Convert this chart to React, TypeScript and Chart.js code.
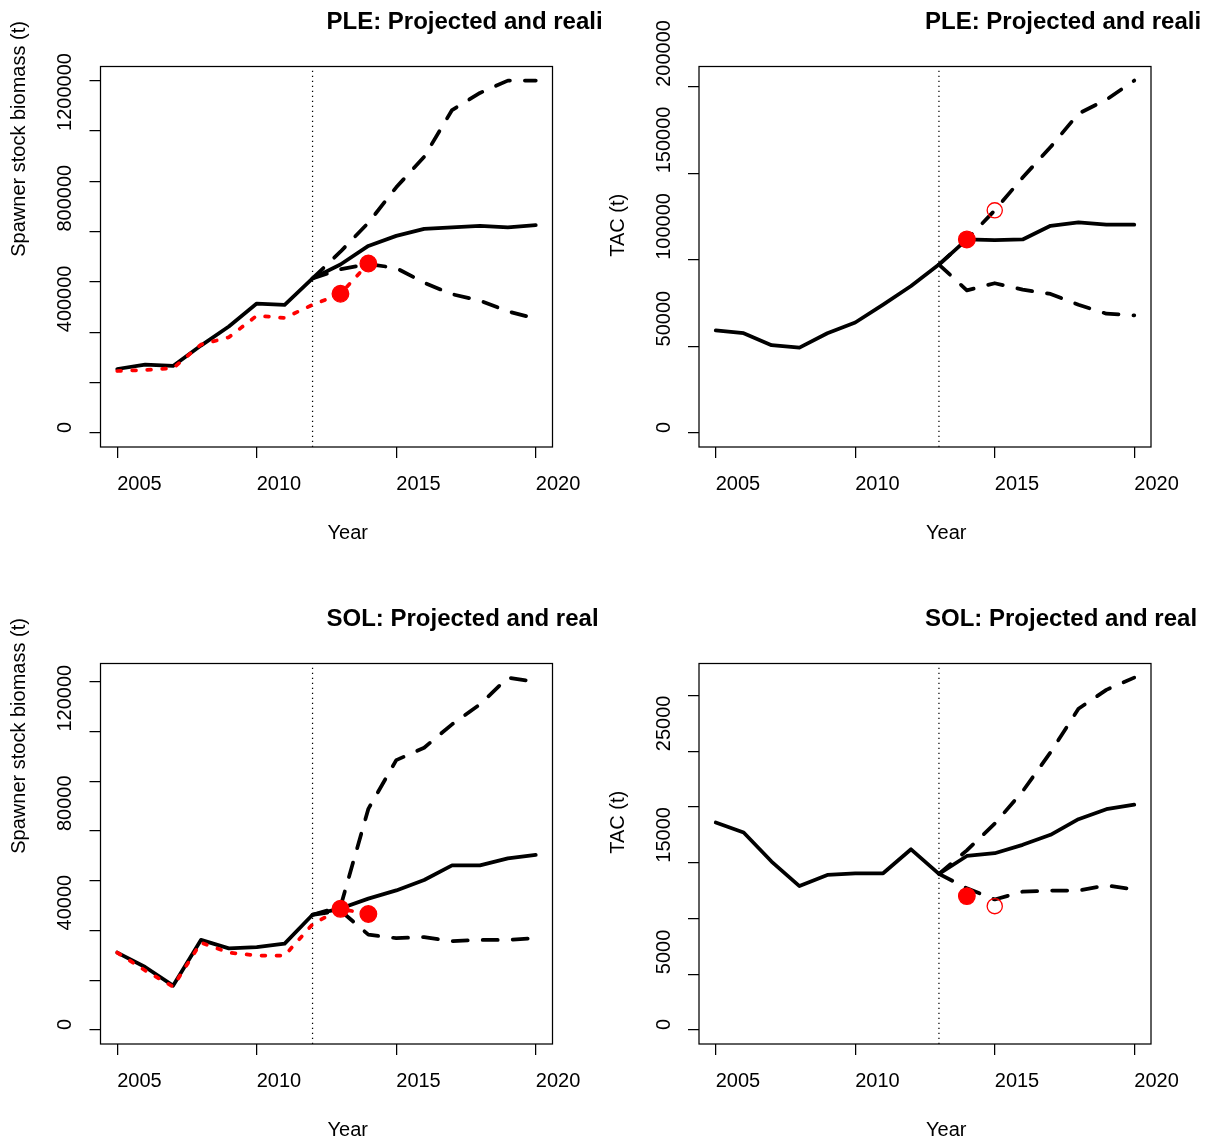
import React, { useEffect, useRef } from "react";
import { Chart, registerables } from "chart.js";

Chart.register(...registerables);

const FONT = '"Liberation Sans", Arial, Helvetica, sans-serif';
const RED = "#FF0000";
const BLACK = "#000000";

// ---------- shared axes ----------
const years = [2005, 2006, 2007, 2008, 2009, 2010, 2011, 2012, 2013, 2014, 2015, 2016, 2017, 2018, 2019, 2020];
const realisedYears = [2005, 2006, 2007, 2008, 2009, 2010, 2011, 2012, 2013, 2014];
const xTickValues = [2005, 2010, 2015, 2020];
const xTickLabels = ["2005", "2010", "2015", "2020"];

// ---------- PLE: spawner stock biomass ----------
const pleSsbYTicks = [0, 200000, 400000, 600000, 800000, 1000000, 1200000, 1400000];
const pleSsbYTickLabels = ["0", "", "400000", "", "800000", "", "1200000", ""];
const pleSsbYRange = [0, 1400000];
const pleSsbSolid = [254000, 271000, 266000, 347000, 423000, 514000, 509000, 614000, 669000, 743000, 783000, 811000, 817000, 823000, 817000, 826000];
const pleSsbRealised = [246000, 250000, 257000, 351000, 380000, 466000, 457000, 509000, 553000, 673000];
const pleSsbProjYears = [2012, 2013, 2014, 2015, 2016, 2017, 2018, 2019, 2020];
const pleSsbHigh = [614000, 720000, 835000, 976000, 1097000, 1283000, 1351000, 1400000, 1400000];
const pleSsbLow = [614000, 650000, 671000, 655000, 597000, 551000, 526000, 483000, 454000];
const pleSsbFilledYears = [2013, 2014];
const pleSsbFilled = [553000, 673000];

// ---------- PLE: TAC ----------
const pleTacYTicks = [0, 50000, 100000, 150000, 200000];
const pleTacYTickLabels = ["0", "50000", "100000", "150000", "200000"];
const pleTacYRange = [0, 203600];
const pleTacSolid = [59200, 57600, 50700, 49300, 57600, 63800, 74100, 84900, 97300, 111800, 111400, 111800, 119700, 121700, 120300, 120300];
const pleTacProjYears = [2013, 2014, 2015, 2016, 2017, 2018, 2019, 2020];
const pleTacHigh = [97300, 111800, 128600, 147600, 165200, 184500, 192600, 203600];
const pleTacLow = [97300, 82400, 86500, 82800, 80300, 74100, 68900, 67900];
const pleTacFilledYears = [2014];
const pleTacFilled = [111800];
const pleTacOpenYears = [2015];
const pleTacOpen = [128600];

// ---------- SOL: spawner stock biomass ----------
const solSsbYTicks = [0, 20000, 40000, 60000, 80000, 100000, 120000, 140000];
const solSsbYTickLabels = ["0", "", "40000", "", "80000", "", "120000", ""];
const solSsbYRange = [0, 141700];
const solSsbSolid = [31100, 25300, 17800, 36200, 32800, 33300, 34700, 46300, 48800, 52800, 56100, 60300, 66200, 66200, 69000, 70400];
const solSsbRealised = [31100, 23900, 17400, 35100, 31100, 29900, 29900, 42500, 48700, 46600];
const solSsbProjYears = [2012, 2013, 2014, 2015, 2016, 2017, 2018, 2019, 2020];
const solSsbHigh = [46300, 49500, 88900, 108500, 113500, 122900, 130900, 141700, 140000];
const solSsbLow = [46300, 48000, 38300, 36900, 37300, 35700, 36200, 36200, 36900];
const solSsbFilledYears = [2013, 2014];
const solSsbFilled = [48700, 46600];

// ---------- SOL: TAC ----------
const solTacYTicks = [0, 5000, 10000, 15000, 20000, 25000, 30000];
const solTacYTickLabels = ["0", "5000", "", "15000", "", "25000", ""];
const solTacYRange = [0, 31600];
const solTacSolid = [18600, 17700, 15100, 12900, 13900, 14050, 14050, 16200, 14000, 15600, 15850, 16600, 17500, 18900, 19800, 20200];
const solTacProjYears = [2013, 2014, 2015, 2016, 2017, 2018, 2019, 2020];
const solTacHigh = [14000, 16100, 18500, 21400, 24900, 28800, 30500, 31600];
const solTacLow = [14000, 12700, 11700, 12400, 12500, 12500, 12960, 12600];
const solTacFilledYears = [2014];
const solTacFilled = [12000];
const solTacOpenYears = [2015];
const solTacOpen = [11100];

// ---------- layout ----------
const CANVAS_W = 605;
const CANVAS_H = 596;
const BOX_TOP = 66.5;
const BOX_BOTTOM = 447;
const X_AXIS_H = 60;
const GEOM = [
  { boxLeft: 100.5, boxRight: 552.5, labelLeft: 55 },
  { boxLeft: 94, boxRight: 546, labelLeft: 49.5 },
];

type PanelSpec = {
  title: string;
  yTitle: string;
  yTicks: number[];
  yTickLabels: string[];
  yRange: number[];
  cutYear: number;
  solid: number[];
  realised?: number[];
  projYears: number[];
  high: number[];
  low: number[];
  filledYears: number[];
  filled: number[];
  openYears?: number[];
  open?: number[];
  col: number;
  clipRight: number;
};

const xy = (xs: number[], ys: number[]) => xs.map((x, i) => ({ x, y: ys[i] }));

const framePlugin = {
  id: "frame",
  afterDraw(chart: any, _args: any, opts: any) {
    const { ctx, chartArea: a } = chart;
    ctx.save();
    ctx.strokeStyle = BLACK;
    ctx.lineWidth = 1.25;
    ctx.strokeRect(a.left, a.top, a.right - a.left, a.bottom - a.top);
    ctx.fillStyle = BLACK;
    ctx.textAlign = "left";
    ctx.textBaseline = "alphabetic";
    const cx = (a.left + a.right) / 2;
    const cy = (a.top + a.bottom) / 2;
    ctx.font = `20px ${FONT}`;
    ctx.fillText(opts.xTitle, cx + 1, 538.5);
    ctx.save();
    ctx.translate(a.left - 75.5, cy);
    ctx.rotate(-Math.PI / 2);
    ctx.fillText(opts.yTitle, 0, 0);
    ctx.restore();
    ctx.beginPath();
    ctx.rect(0, 0, opts.clipRight, chart.height);
    ctx.clip();
    ctx.font = `bold 24px ${FONT}`;
    ctx.fillText(opts.title, cx, 29);
    ctx.restore();
  },
};

function Panel({ spec }: { spec: PanelSpec }) {
  const ref = useRef<HTMLCanvasElement | null>(null);
  useEffect(() => {
    if (!ref.current) return;
    const g = GEOM[spec.col];
    const span = (spec.yRange[1] - spec.yRange[0]) * 0.04;
    const yMin = spec.yRange[0] - span;
    const yMax = spec.yRange[1] + span;
    const datasets: any[] = [];
    if (spec.openYears && spec.open) {
      datasets.push({
        label: "open",
        data: xy(spec.openYears, spec.open),
        showLine: false,
        pointRadius: 7.6,
        pointBorderWidth: 1.3,
        pointBorderColor: RED,
        pointBackgroundColor: "rgba(0,0,0,0)",
        borderColor: RED,
      });
    }
    datasets.push({
      label: "filled",
      data: xy(spec.filledYears, spec.filled),
      showLine: false,
      pointRadius: 8.3,
      pointBorderWidth: 1.3,
      pointBorderColor: RED,
      pointBackgroundColor: RED,
      borderColor: RED,
    });
    if (spec.realised) {
      datasets.push({
        label: "realised",
        data: xy(realisedYears, spec.realised),
        borderColor: RED,
        borderWidth: 3.75,
        borderDash: [3.75, 11.25],
        borderCapStyle: "round",
        borderJoinStyle: "round",
        pointRadius: 0,
      });
    }
    datasets.push({
      label: "solid",
      data: xy(years, spec.solid),
      borderColor: BLACK,
      borderWidth: 3.75,
      borderCapStyle: "round",
      borderJoinStyle: "round",
      pointRadius: 0,
    });
    datasets.push({
      label: "high",
      data: xy(spec.projYears, spec.high),
      borderColor: BLACK,
      borderWidth: 3.75,
      borderDash: [15, 15],
      borderCapStyle: "round",
      borderJoinStyle: "round",
      pointRadius: 0,
    });
    datasets.push({
      label: "low",
      data: xy(spec.projYears, spec.low),
      borderColor: BLACK,
      borderWidth: 3.75,
      borderDash: [15, 15],
      borderCapStyle: "round",
      borderJoinStyle: "round",
      pointRadius: 0,
    });
    datasets.push({
      label: "cut",
      data: [
        { x: spec.cutYear, y: yMin },
        { x: spec.cutYear, y: yMax },
      ],
      borderColor: BLACK,
      borderWidth: 1.25,
      borderDash: [1.25, 3.75],
      pointRadius: 0,
    });

    const gridOpts = {
      display: true,
      drawOnChartArea: false,
      drawTicks: true,
      tickLength: 11,
      color: BLACK,
      lineWidth: 1.25,
    };

    const chart = new Chart(ref.current, {
      type: "line",
      data: { datasets },
      plugins: [framePlugin as any],
      options: {
        responsive: false,
        animation: false,
        events: [],
        devicePixelRatio: 1,
        layout: {
          padding: {
            left: g.labelLeft,
            right: CANVAS_W - g.boxRight,
            top: BOX_TOP,
            bottom: CANVAS_H - BOX_BOTTOM - X_AXIS_H,
          },
        },
        plugins: {
          legend: { display: false },
          tooltip: { enabled: false },
          frame: { title: spec.title, yTitle: spec.yTitle, xTitle: "Year", clipRight: spec.clipRight },
        } as any,
        scales: {
          x: {
            type: "linear",
            min: 2004.4,
            max: 2020.6,
            afterBuildTicks: (s: any) => {
              s.ticks = xTickValues.map((v) => ({ value: v }));
            },
            afterFit: (s: any) => {
              s.height = X_AXIS_H;
            },
            ticks: {
              autoSkip: false,
              align: "start",
              minRotation: 0,
              maxRotation: 0,
              padding: 14.5,
              color: BLACK,
              font: { family: FONT, size: 20 },
              callback: (_v: any, i: number) => xTickLabels[i],
            },
            grid: gridOpts,
            border: { display: false },
          },
          y: {
            type: "linear",
            min: yMin,
            max: yMax,
            afterBuildTicks: (s: any) => {
              s.ticks = spec.yTicks.map((v) => ({ value: v }));
            },
            afterFit: (s: any) => {
              s.width = g.boxLeft - g.labelLeft;
            },
            ticks: {
              autoSkip: false,
              minRotation: 90,
              maxRotation: 90,
              crossAlign: "far",
              align: "start",
              padding: 0,
              color: BLACK,
              font: { family: FONT, size: 20 },
              callback: (_v: any, i: number) => spec.yTickLabels[i],
            },
            grid: gridOpts,
            border: { display: false },
          },
        } as any,
      },
    } as any);
    return () => chart.destroy();
  }, [spec]);
  return <canvas ref={ref} width={CANVAS_W} height={CANVAS_H} style={{ display: "block", width: CANVAS_W, height: CANVAS_H }} />;
}

const panels: { spec: PanelSpec; left: number; top: number }[] = [
  {
    left: 0,
    top: 0,
    spec: {
      title: "PLE: Projected and realised SSB",
      yTitle: "Spawner stock biomass (t)",
      yTicks: pleSsbYTicks,
      yTickLabels: pleSsbYTickLabels,
      yRange: pleSsbYRange,
      cutYear: 2012,
      solid: pleSsbSolid,
      realised: pleSsbRealised,
      projYears: pleSsbProjYears,
      high: pleSsbHigh,
      low: pleSsbLow,
      filledYears: pleSsbFilledYears,
      filled: pleSsbFilled,
      col: 0,
      clipRight: 602,
    },
  },
  {
    left: 605,
    top: 0,
    spec: {
      title: "PLE: Projected and realised TAC",
      yTitle: "TAC (t)",
      yTicks: pleTacYTicks,
      yTickLabels: pleTacYTickLabels,
      yRange: pleTacYRange,
      cutYear: 2013,
      solid: pleTacSolid,
      projYears: pleTacProjYears,
      high: pleTacHigh,
      low: pleTacLow,
      filledYears: pleTacFilledYears,
      filled: pleTacFilled,
      openYears: pleTacOpenYears,
      open: pleTacOpen,
      col: 1,
      clipRight: 595,
    },
  },
  {
    left: 0,
    top: 597,
    spec: {
      title: "SOL: Projected and realised SSB",
      yTitle: "Spawner stock biomass (t)",
      yTicks: solSsbYTicks,
      yTickLabels: solSsbYTickLabels,
      yRange: solSsbYRange,
      cutYear: 2012,
      solid: solSsbSolid,
      realised: solSsbRealised,
      projYears: solSsbProjYears,
      high: solSsbHigh,
      low: solSsbLow,
      filledYears: solSsbFilledYears,
      filled: solSsbFilled,
      col: 0,
      clipRight: 597,
    },
  },
  {
    left: 605,
    top: 597,
    spec: {
      title: "SOL: Projected and realised TAC",
      yTitle: "TAC (t)",
      yTicks: solTacYTicks,
      yTickLabels: solTacYTickLabels,
      yRange: solTacYRange,
      cutYear: 2013,
      solid: solTacSolid,
      projYears: solTacProjYears,
      high: solTacHigh,
      low: solTacLow,
      filledYears: solTacFilledYears,
      filled: solTacFilled,
      openYears: solTacOpenYears,
      open: solTacOpen,
      col: 1,
      clipRight: 591,
    },
  },
];

export default function App() {
  return (
    <div
      style={{
        position: "absolute",
        left: 0,
        top: 0,
        width: 1210,
        height: 1140,
        overflow: "hidden",
        background: "#FFFFFF",
      }}
    >
      {panels.map((p, i) => (
        <div key={i} style={{ position: "absolute", left: p.left, top: p.top, width: CANVAS_W, height: CANVAS_H }}>
          <Panel spec={p.spec} />
        </div>
      ))}
    </div>
  );
}
